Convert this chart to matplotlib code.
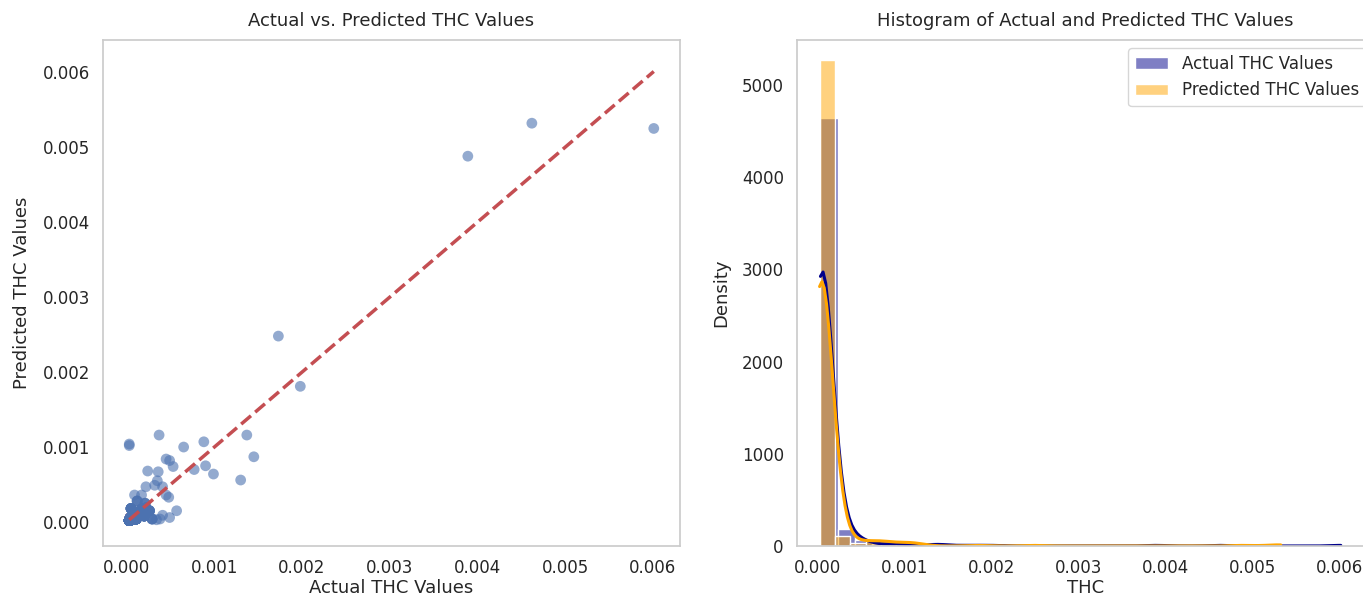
import numpy as np
import matplotlib
matplotlib.use('Agg')
import matplotlib.pyplot as plt
import seaborn as sns

# ── Scattered (non-clustered) test points: actual vs predicted THC ────────────
actual_pts = [
    0.00389, 0.00462, 0.00601, 0.00173, 0.00198,
    0.00037, 0.00003, 0.00003, 0.00065, 0.00088, 0.00137, 0.00145,
    0.00045, 0.00049, 0.00053, 0.00077, 0.00090, 0.00099, 0.00130,
    0.00024, 0.00036, 0.00035, 0.00022, 0.00032, 0.00041, 0.00045,
    0.00048, 0.00009, 0.00017, 0.00057, 0.00041, 0.00049, 0.00034,
    0.00038,
]
predicted_pts = [
    0.00488, 0.00532, 0.00525, 0.00248, 0.00181,
    0.00116, 0.00104, 0.00102, 0.00100, 0.00107, 0.00116, 0.00087,
    0.00084, 0.00082, 0.00074, 0.00070, 0.00075, 0.00064, 0.00056,
    0.00068, 0.00067, 0.00055, 0.00047, 0.00049, 0.00047, 0.00036,
    0.00033, 0.00036, 0.00036, 0.00015, 0.00009, 0.00006, 0.00003,
    0.00004,
]

# ── Overlapping samples in the dense cluster near zero: (actual, predicted, count)
cluster_actual = [0.00003, 0.00004, 0.00006, 0.00008, 0.00011, 0.00014,
                  0.00017, 0.00020, 0.00022, 0.00005, 0.00021, 0.00012,
                  0.00026, 0.00029]
cluster_predicted = [0.00002, 0.00005, 0.00003, 0.00008, 0.00004, 0.00012,
                     0.00017, 0.00008, 0.00019, 0.00018, 0.00025, 0.00028,
                     0.00015, 0.00004]
cluster_count = [185, 125, 60, 30, 20, 15, 10, 10, 5, 8, 3, 3, 6, 4]

y_test = np.concatenate([actual_pts, np.repeat(cluster_actual, cluster_count)])
y_pred = np.concatenate([predicted_pts, np.repeat(cluster_predicted, cluster_count)])

sns.set_theme(style='whitegrid')
plt.rcParams['font.family'] = ['DejaVu Sans']

fig = plt.figure(figsize=(13.63, 5.96), dpi=100)
ax1 = fig.add_axes([0.0756, 0.0839, 0.4233, 0.849])
ax2 = fig.add_axes([0.5847, 0.0839, 0.4233, 0.849])

ticks = [0, 0.001, 0.002, 0.003, 0.004, 0.005, 0.006]

# ── Left: scatter actual vs predicted ────────────────────────────────────────
ax1.scatter(y_test, y_pred, alpha=0.6, color='b', s=60, edgecolors='none')
ax1.plot([y_test.min(), y_test.max()], [y_test.min(), y_test.max()], 'r--', lw=2.5)
ax1.set_xlabel('Actual THC Values', fontsize=13, labelpad=1)
ax1.set_ylabel('Predicted THC Values', fontsize=13, labelpad=8)
ax1.set_title('Actual vs. Predicted THC Values', fontsize=13, pad=10)
ax1.set_xticks(ticks)
ax1.set_yticks(ticks)
ax1.set_ylim(-0.00032, 0.00643)
ax1.tick_params(labelsize=12)
ax1.grid(False)

# ── Right: histogram + KDE ───────────────────────────────────────────────────
sns.histplot(y_test, bins=30, kde=True, stat='density', color='darkblue',
             label='Actual THC Values', line_kws={'linewidth': 2.2}, ax=ax2)
sns.histplot(y_pred, bins=30, kde=True, stat='density', color='orange',
             label='Predicted THC Values', line_kws={'linewidth': 2.2}, ax=ax2)
ax2.set_xlabel('THC', fontsize=13, labelpad=1)
ax2.set_ylabel('Density', fontsize=13, labelpad=8)
ax2.set_title('Histogram of Actual and Predicted THC Values', fontsize=13, pad=10)
ax2.set_xticks(ticks)
ax2.set_xlim(-0.00024, 0.00639)
ax2.set_ylim(0, 5490)
ax2.tick_params(labelsize=12)
ax2.legend(fontsize=12)
ax2.grid(False)

fig.savefig('out.png', dpi=100)
